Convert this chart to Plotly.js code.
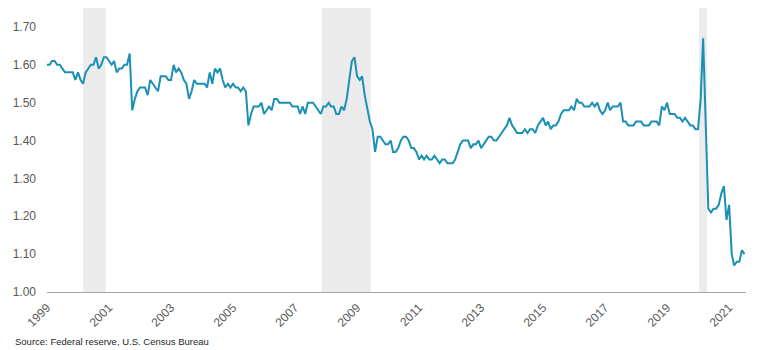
<!DOCTYPE html>
<html>
<head>
<meta charset="utf-8">
<script src="https://cdn.plot.ly/plotly-3.0.1.min.js"></script>
<style>html,body{margin:0;padding:0;background:#fff;}#chart{width:776px;height:350px;}</style>
</head>
<body>
<div id="chart"></div>
<script>
// Monthly series, first value = January 1999
const startYear = 1999;
const ratio = [
  1.60,1.60,1.61,1.61,1.60,1.60,1.59,1.58,1.58,1.58,1.58,1.56, // 1999
  1.58,1.56,1.55,1.58,1.59,1.60,1.60,1.62,1.59,1.60,1.62,1.62, // 2000
  1.61,1.60,1.61,1.58,1.59,1.59,1.60,1.60,1.63,1.48,1.51,1.53, // 2001
  1.54,1.54,1.54,1.52,1.56,1.55,1.54,1.53,1.57,1.57,1.57,1.56, // 2002
  1.56,1.60,1.58,1.59,1.58,1.56,1.55,1.51,1.53,1.56,1.55,1.55, // 2003
  1.55,1.55,1.54,1.58,1.55,1.59,1.58,1.59,1.56,1.54,1.55,1.54, // 2004
  1.55,1.54,1.54,1.53,1.54,1.53,1.44,1.47,1.49,1.49,1.49,1.50, // 2005
  1.47,1.48,1.49,1.48,1.51,1.51,1.50,1.50,1.50,1.50,1.50,1.49, // 2006
  1.49,1.49,1.47,1.49,1.47,1.50,1.50,1.50,1.49,1.48,1.47,1.49, // 2007
  1.49,1.50,1.49,1.49,1.47,1.47,1.49,1.48,1.51,1.56,1.61,1.62, // 2008
  1.57,1.56,1.57,1.52,1.48,1.45,1.43,1.37,1.41,1.41,1.40,1.39, // 2009
  1.39,1.40,1.37,1.37,1.38,1.40,1.41,1.41,1.40,1.38,1.38,1.37, // 2010
  1.35,1.36,1.35,1.36,1.35,1.35,1.36,1.35,1.34,1.35,1.35,1.34, // 2011
  1.34,1.34,1.35,1.37,1.39,1.40,1.40,1.40,1.38,1.39,1.39,1.40, // 2012
  1.38,1.39,1.40,1.41,1.41,1.40,1.40,1.41,1.42,1.43,1.44,1.46, // 2013
  1.44,1.43,1.42,1.42,1.42,1.43,1.42,1.43,1.43,1.42,1.44,1.45, // 2014
  1.46,1.44,1.45,1.43,1.44,1.44,1.45,1.47,1.48,1.48,1.48,1.49, // 2015
  1.48,1.51,1.50,1.50,1.49,1.49,1.49,1.50,1.49,1.50,1.48,1.47, // 2016
  1.48,1.50,1.48,1.49,1.49,1.49,1.50,1.45,1.45,1.44,1.44,1.44, // 2017
  1.45,1.45,1.45,1.44,1.44,1.44,1.45,1.45,1.45,1.44,1.49,1.48, // 2018
  1.50,1.47,1.47,1.47,1.46,1.46,1.45,1.46,1.45,1.44,1.44,1.43, // 2019
  1.43,1.51,1.67,1.44,1.22,1.21,1.22,1.22,1.23,1.26,1.28,1.19, // 2020
  1.23,1.10,1.07,1.08,1.08,1.11,1.10                           // 2021
];

// Shaded recession periods
const recStart = ['2000-03-01', '2007-11-10', '2020-01-13'];
const recEnd   = ['2000-11-21', '2009-06-10', '2020-04-15'];

// Axis ticks
const xTickYears = [1999,2001,2003,2005,2007,2009,2011,2013,2015,2017,2019,2021];
const yTickVals = [1.00,1.10,1.20,1.30,1.40,1.50,1.60,1.70];

const sourceText = 'Source: Federal reserve, U.S. Census Bureau';

// Build monthly dates
const dates = ratio.map((v, i) => {
  const y = startYear + Math.floor(i / 12);
  const m = (i % 12) + 1;
  return y + '-' + String(m).padStart(2, '0') + '-01';
});

const font = 'Liberation Sans, Arial, sans-serif';

const trace = {
  x: dates,
  y: ratio,
  type: 'scatter',
  mode: 'lines',
  line: {color: '#1a90b4', width: 2},
  hoverinfo: 'x+y'
};

const shapes = recStart.map((s, i) => ({
  type: 'rect', xref: 'x', yref: 'paper',
  x0: s, x1: recEnd[i], y0: 0, y1: 1,
  fillcolor: '#ebebeb', line: {width: 0}, layer: 'below'
}));

const layout = {
  width: 776, height: 350,
  margin: {l: 47, r: 30, t: 8, b: 58},
  paper_bgcolor: '#ffffff',
  plot_bgcolor: '#ffffff',
  showlegend: false,
  font: {family: font, color: '#595959'},
  xaxis: {
    type: 'date',
    range: ['1999-01-01', '2021-07-19'],
    tickvals: xTickYears.map(y => y + '-01-01'),
    ticktext: xTickYears.map(String),
    tickangle: -45,
    tickfont: {size: 12, color: '#595959', family: font},
    showgrid: false, zeroline: false,
    showline: true, linecolor: '#a6a6a6', linewidth: 1,
    ticks: '', ticklabelstandoff: 3
  },
  yaxis: {
    range: [1.0, 1.75],
    tickvals: yTickVals,
    tickformat: '.2f',
    tickfont: {size: 12, color: '#595959', family: font},
    showgrid: false, zeroline: false, showline: false,
    ticks: '', ticklabelstandoff: 10
  },
  shapes: shapes,
  annotations: [{
    text: sourceText,
    xref: 'paper', yref: 'paper', x: 0, y: 0,
    xanchor: 'left', yanchor: 'middle',
    xshift: -34, yshift: -49,
    showarrow: false,
    font: {size: 9.5, color: '#262626', family: font}
  }]
};

Plotly.newPlot('chart', [trace], layout, {displayModeBar: false, staticPlot: true});
</script>
</body>
</html>
